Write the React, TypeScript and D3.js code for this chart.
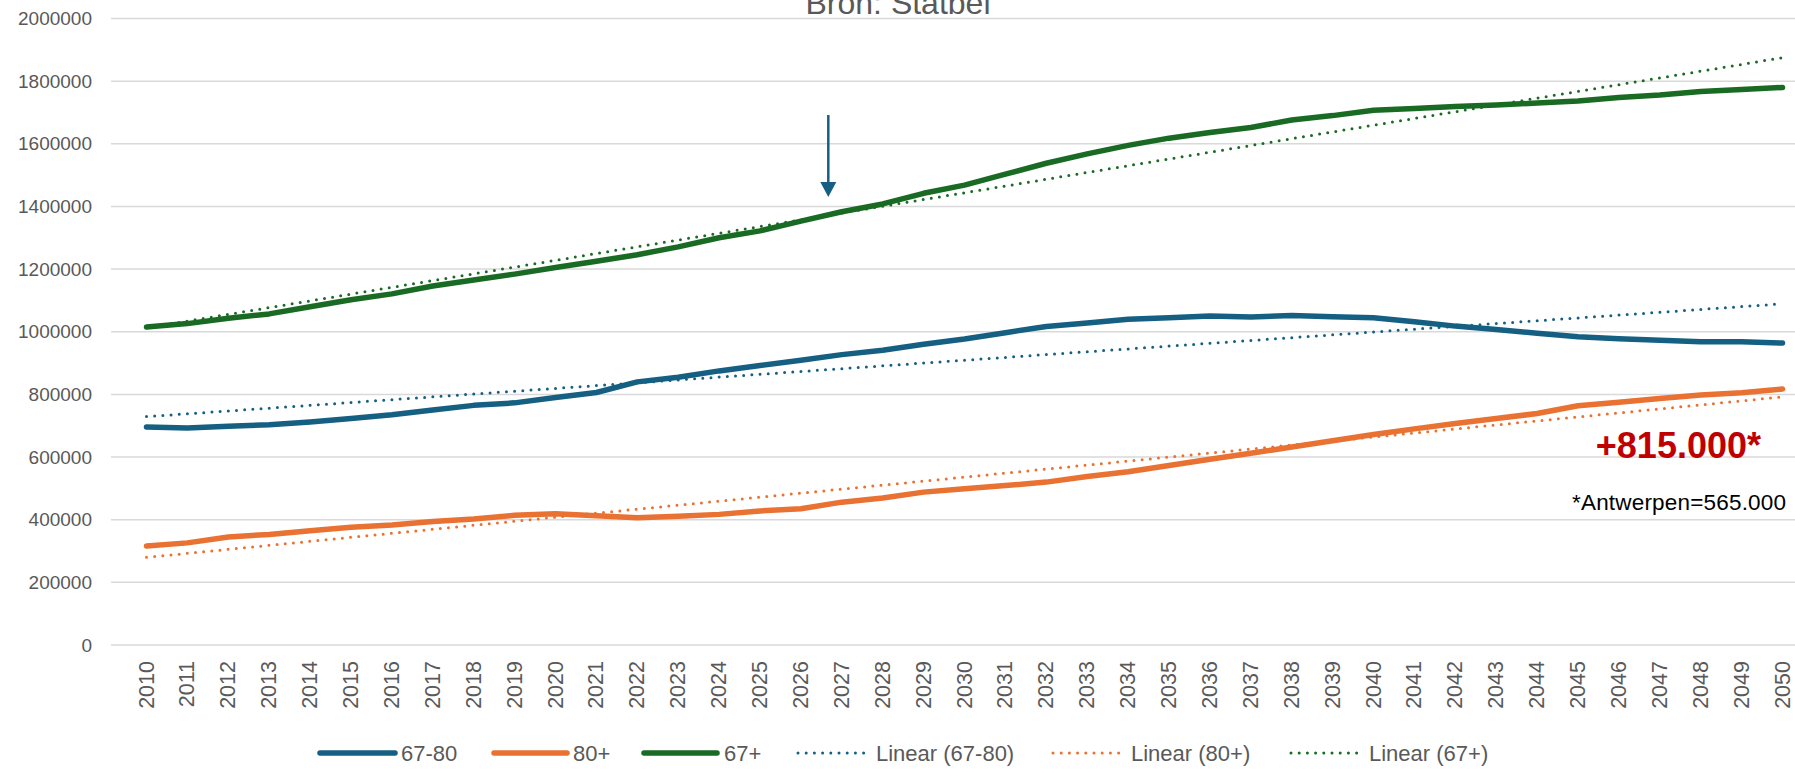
import React from "react";
import * as d3 from "d3";

const years = [
  "2010","2011","2012","2013","2014","2015","2016","2017","2018","2019",
  "2020","2021","2022","2023","2024","2025","2026","2027","2028","2029",
  "2030","2031","2032","2033","2034","2035","2036","2037","2038","2039",
  "2040","2041","2042","2043","2044","2045","2046","2047","2048","2049","2050",
];

const age67to80 = [
  696000, 693000, 698000, 703000, 712000, 723000, 735000, 750000, 765000, 773000,
  790000, 806000, 840000, 855000, 875000, 892000, 909000, 927000, 941000, 960000,
  977000, 997000, 1017000, 1028000, 1040000, 1045000, 1050000, 1047000, 1052000, 1048000,
  1045000, 1032000, 1018000, 1007000, 995000, 984000, 978000, 973000, 968000, 968000, 964000,
];

const age80plus = [
  316000, 326000, 345000, 353000, 365000, 376000, 383000, 394000, 402000, 414000,
  419000, 413000, 406000, 411000, 417000, 428000, 435000, 456000, 469000, 488000,
  499000, 509000, 520000, 538000, 553000, 573000, 593000, 612000, 632000, 652000,
  672000, 690000, 707000, 723000, 739000, 764000, 775000, 787000, 798000, 805000, 817000,
];

const age67plus = [
  1015000, 1026000, 1043000, 1057000, 1080000, 1102000, 1121000, 1146000, 1165000, 1184000,
  1205000, 1225000, 1246000, 1271000, 1300000, 1322000, 1353000, 1383000, 1408000, 1442000,
  1468000, 1503000, 1538000, 1568000, 1595000, 1618000, 1636000, 1652000, 1676000, 1690000,
  1707000, 1713000, 1719000, 1724000, 1730000, 1737000, 1748000, 1756000, 1767000, 1773000, 1780000,
];

const yTicks = [0, 200000, 400000, 600000, 800000, 1000000, 1200000, 1400000, 1600000, 1800000, 2000000];

const seriesNames = ["67-80", "80+", "67+"];
const trendNames = ["Linear (67-80)", "Linear (80+)", "Linear (67+)"];
const colors = ["#156082", "#E97132", "#196B24"];

const titleText = "Bron: Statbel";
const bigNote = "+815.000*";
const smallNote = "*Antwerpen=565.000";
const arrowYear = 2026.67;

const W = 1795, H = 769;
const FONT = "'Liberation Sans', Arial, sans-serif";
const GRAY = "#595959";

function linFit(vals: number[]) {
  const n = vals.length;
  const xs = vals.map((_, i) => i + 1);
  const mx = d3.mean(xs) as number;
  const my = d3.mean(vals) as number;
  let sxy = 0, sxx = 0;
  xs.forEach((x, i) => { sxy += (x - mx) * (vals[i] - my); sxx += (x - mx) * (x - mx); });
  const b = sxy / sxx;
  const a = my - b * mx;
  return [a + b * 1, a + b * n];
}

export default function App() {
  const x = d3.scalePoint<string>().domain(years).range([146.5, 1782.5]);
  const y = d3.scaleLinear().domain([0, 2000000]).range([645, 18.5]);
  const xYear = d3.scaleLinear().domain([2010, 2050]).range([146.5, 1782.5]);
  const data = [age67to80, age80plus, age67plus];
  const line = d3.line<number>().x((_, i) => x(years[i]) as number).y((v) => y(v));

  const legendItems = [
    { x0: 320, x1: 395, tx: 401, name: seriesNames[0], c: colors[0], dot: false },
    { x0: 494, x1: 567, tx: 573, name: seriesNames[1], c: colors[1], dot: false },
    { x0: 644, x1: 717, tx: 724, name: seriesNames[2], c: colors[2], dot: false },
    { x0: 798, x1: 868, tx: 876, name: trendNames[0], c: colors[0], dot: true },
    { x0: 1053, x1: 1123, tx: 1131, name: trendNames[1], c: colors[1], dot: true },
    { x0: 1291, x1: 1361, tx: 1369, name: trendNames[2], c: colors[2], dot: true },
  ];

  const ax = xYear(arrowYear);

  return (
    <svg width={W} height={H} style={{ position: "absolute", left: 0, top: 0, background: "#fff" }} fontFamily={FONT}>
      <rect width={W} height={H} fill="#fff" />
      {yTicks.map((t) => (
        <g key={t}>
          <line x1={111} x2={W} y1={y(t)} y2={y(t)} stroke="#d9d9d9" strokeWidth={1.5} />
          <text x={92} y={y(t)} textAnchor="end" dominantBaseline="central" fontSize={19} fill={GRAY}>{t}</text>
        </g>
      ))}
      {years.map((yr) => (
        <text key={yr} transform={`translate(${x(yr)},${661}) rotate(-90)`} textAnchor="end" dominantBaseline="central" fontSize={21.5} fill={GRAY}>{yr}</text>
      ))}
      <text x={898} y={14} textAnchor="middle" fontSize={32} fill={GRAY}>{titleText}</text>
      {data.map((d, i) => (
        <path key={"s" + i} d={line(d) || ""} fill="none" stroke={colors[i]} strokeWidth={5.5} strokeLinejoin="round" strokeLinecap="round" />
      ))}
      {data.map((d, i) => {
        const [a, b] = linFit(d);
        return (
          <line key={"t" + i} x1={x(years[0])} x2={x(years[years.length - 1])} y1={y(a)} y2={y(b)} stroke={colors[i]} strokeWidth={3} strokeDasharray="0 8.2" strokeLinecap="round" />
        );
      })}
      <line x1={ax} x2={ax} y1={115} y2={184} stroke={colors[0]} strokeWidth={2.5} />
      <path d={`M${ax - 8},${182} L${ax + 8},${182} L${ax},${197} Z`} fill={colors[0]} />
      <text x={1761} y={458} textAnchor="end" fontSize={36} fontWeight="bold" fill="#C00000">{bigNote}</text>
      <text x={1786} y={510} textAnchor="end" fontSize={22.5} fill="#000" textLength={214} lengthAdjust="spacing">{smallNote}</text>
      {legendItems.map((it) => (
        <g key={it.name}>
          {it.dot ? (
            <line x1={it.x0} x2={it.x1} y1={753} y2={753} stroke={it.c} strokeWidth={3} strokeDasharray="0 8.2" strokeLinecap="round" />
          ) : (
            <line x1={it.x0} x2={it.x1} y1={753} y2={753} stroke={it.c} strokeWidth={5.5} strokeLinecap="round" />
          )}
          <text x={it.tx} y={753} dominantBaseline="central" fontSize={22} fill={GRAY}>{it.name}</text>
        </g>
      ))}
    </svg>
  );
}
